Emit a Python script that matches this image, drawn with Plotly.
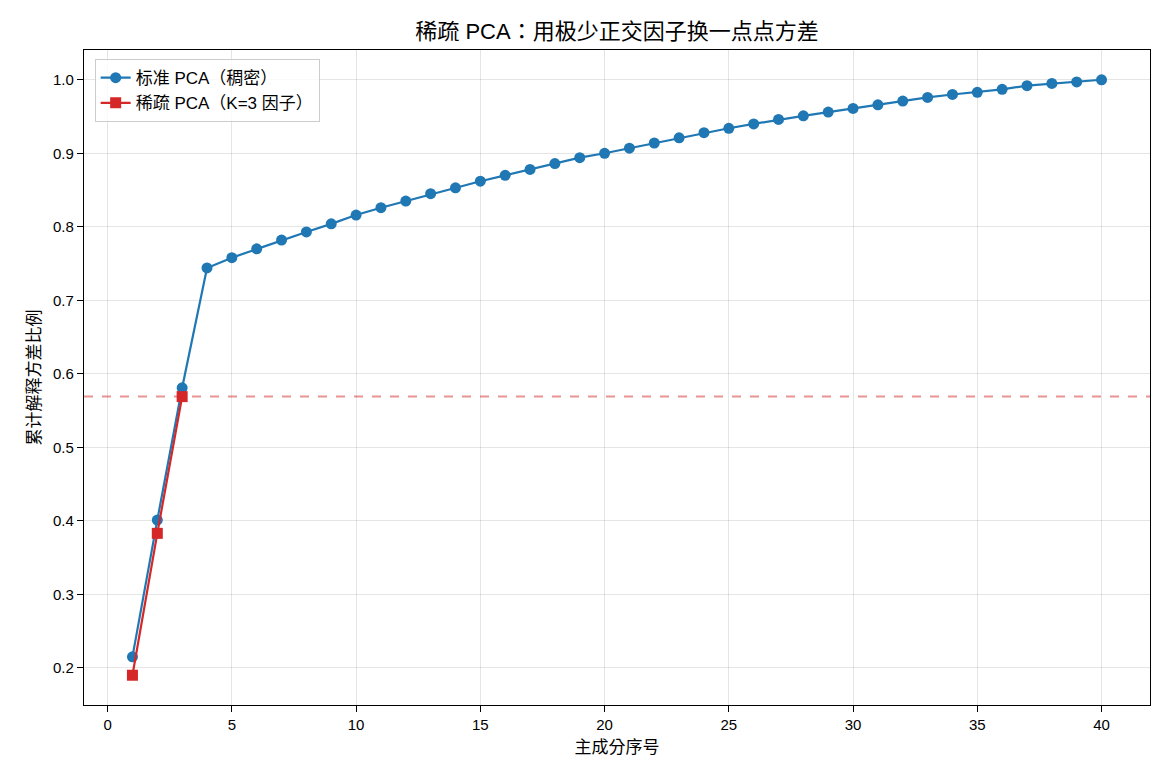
import plotly.graph_objects as go

components = list(range(1, 41))
dense_cum = [0.215, 0.401, 0.581, 0.744, 0.758, 0.770, 0.782, 0.793, 0.804, 0.816,
             0.826, 0.835, 0.845, 0.853, 0.862, 0.870, 0.878, 0.886, 0.894, 0.900,
             0.907, 0.914, 0.921, 0.928, 0.934, 0.940, 0.946, 0.951, 0.956, 0.961,
             0.966, 0.971, 0.976, 0.980, 0.983, 0.987, 0.992, 0.995, 0.997, 1.000]
sparse_components = [1, 2, 3]
sparse_cum = [0.190, 0.383, 0.569]
sparse_total = 0.569

FONT = "Liberation Sans, Arial, Noto Sans CJK TC, sans-serif"

fig = go.Figure()
fig.add_trace(go.Scatter(
    x=components, y=dense_cum, mode="lines+markers",
    name="标准 PCA（稠密）",
    line=dict(color="#1f77b4", width=2.2),
    marker=dict(symbol="circle", size=11, color="#1f77b4"),
))
fig.add_trace(go.Scatter(
    x=sparse_components, y=sparse_cum, mode="lines+markers",
    name="稀疏 PCA（K=3 因子）",
    line=dict(color="#d62728", width=2.2),
    marker=dict(symbol="square", size=11, color="#d62728"),
))
fig.add_shape(type="line", xref="paper", x0=0, x1=1, yref="y",
              y0=sparse_total, y1=sparse_total,
              line=dict(color="rgba(214,39,40,0.5)", width=2, dash="dash"),
              layer="below")

axis_common = dict(
    showline=True, linecolor="black", linewidth=1.3, mirror=True,
    ticks="outside", ticklen=6, tickcolor="black", tickwidth=1.3,
    showgrid=True, gridcolor="rgba(0,0,0,0.1)", gridwidth=1,
    zeroline=False, tickfont=dict(size=15, color="black", family=FONT),
)

fig.update_layout(
    width=1170, height=780,
    paper_bgcolor="white", plot_bgcolor="white",
    margin=dict(l=84, r=20, t=50, b=75),
    font=dict(family=FONT, color="black"),
    title=dict(text="稀疏 PCA：用极少正交因子换一点点方差",
               xref="paper", x=0.5, xanchor="center", y=0.96, yanchor="middle",
               font=dict(size=22, color="black", family=FONT)),
    xaxis=dict(range=[-0.95, 41.95], tickvals=[0, 5, 10, 15, 20, 25, 30, 35, 40],
               title=dict(text="主成分序号", font=dict(size=17), standoff=8),
               **axis_common),
    yaxis=dict(range=[0.1495, 1.0405], tickvals=[0.2, 0.3, 0.4, 0.5, 0.6, 0.7, 0.8, 0.9, 1.0],
               tickformat=".1f",
               title=dict(text="累计解释方差比例", font=dict(size=17), standoff=8),
               **axis_common),
    legend=dict(x=0.01, y=0.986, xanchor="left", yanchor="top",
                bgcolor="rgba(255,255,255,0.8)", bordercolor="#cccccc", borderwidth=1,
                font=dict(size=17, family=FONT), tracegroupgap=0),
    showlegend=True,
)

fig.write_html("out.html")
